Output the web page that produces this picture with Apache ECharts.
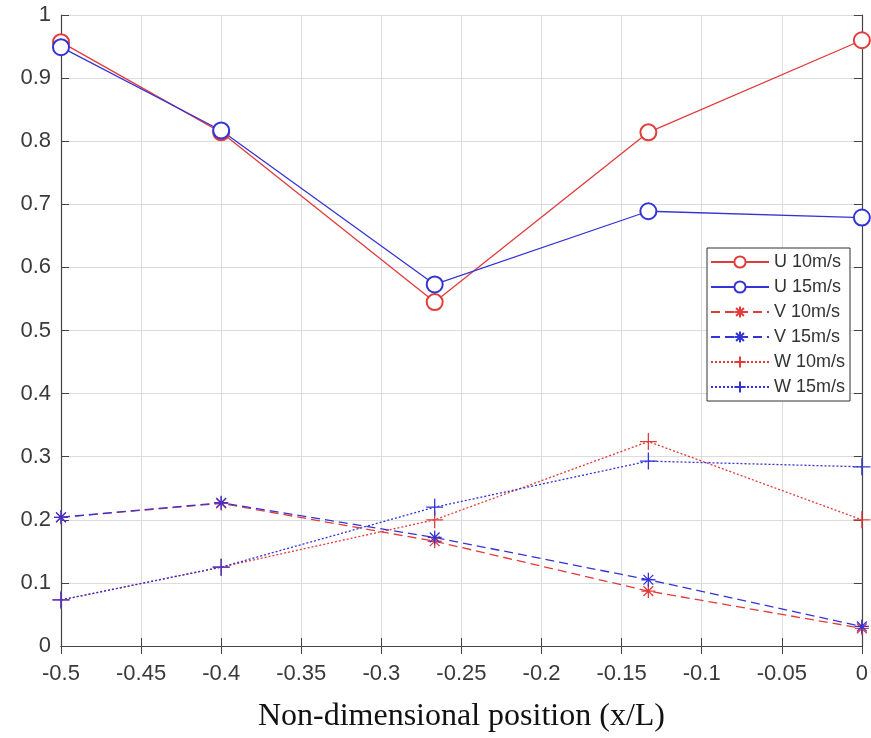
<!DOCTYPE html>
<html>
<head>
<meta charset="utf-8">
<script src="https://cdn.jsdelivr.net/npm/echarts@6/dist/echarts.min.js"></script>
<style>
  html, body { margin: 0; padding: 0; background: #fff; }
  #chart { width: 871px; height: 738px; }
</style>
</head>
<body>
<div id="chart"></div>
<script>
// x positions (x/L)
var positions = [-0.5, -0.4, -0.2667, -0.1333, 0];

var u10 = [0.957, 0.814, 0.545, 0.814, 0.960];
var u15 = [0.949, 0.817, 0.573, 0.689, 0.679];
var v10 = [0.204, 0.226, 0.166, 0.087, 0.028];
var v15 = [0.204, 0.227, 0.172, 0.105, 0.031];
var w10 = [0.073, 0.125, 0.200, 0.324, 0.200];
var w15 = [0.073, 0.125, 0.220, 0.293, 0.284];

var seriesNames = ["U 10m/s", "U 15m/s", "V 10m/s", "V 15m/s", "W 10m/s", "W 15m/s"];

var RED = "#e23b3b";
var BLUE = "#3434d6";
var STAR = "path://M5 0L5 10M0 5L10 5M1.5 1.5L8.5 8.5M8.5 1.5L1.5 8.5";
var PLUS = "path://M5 0L5 10M0 5L10 5";

function pairs(vals) {
    return positions.map(function (x, i) { return [x, vals[i]]; });
}

function makeSeries(name, vals, color, symbol, size, dash) {
    var item = { color: color, borderWidth: 1.3 };
    if (symbol !== "emptyCircle") {
        item.borderColor = color;
    }
    return {
        name: name,
        type: "line",
        data: pairs(vals),
        color: color,
        symbol: symbol,
        symbolSize: size,
        showAllSymbol: true,
        lineStyle: { color: color, width: 1.3, type: dash },
        itemStyle: item,
        emphasis: { disabled: true },
        animation: false,
        z: 3
    };
}

var chart = echarts.init(document.getElementById("chart"));

var tickStyle = { show: true, inside: true, length: 8, lineStyle: { color: "#444", width: 1 } };
var labelFont = { fontFamily: "Liberation Sans, Arial, sans-serif", fontSize: 22, color: "#3a3a3a" };

chart.setOption({
    backgroundColor: "#fff",
    grid: { left: 61, right: 8, top: 15, bottom: 90, containLabel: false },
    xAxis: [{
        type: "value",
        min: -0.5,
        max: 0,
        interval: 0.05,
        name: "Non-dimensional position (x/L)",
        nameLocation: "middle",
        nameGap: 55,
        nameTextStyle: { fontFamily: "Liberation Serif, Times New Roman, serif", fontSize: 32, color: "#111" },
        axisLine: { show: true, onZero: false, lineStyle: { color: "#444", width: 1.2 } },
        axisTick: tickStyle,
        axisLabel: Object.assign({
            margin: 17,
            formatter: function (v) { return String(parseFloat(v.toFixed(2))); }
        }, labelFont),
        splitLine: { show: true, lineStyle: { color: "#dcdcdc", width: 1 } }
    }, {
        type: "value",
        position: "top",
        min: -0.5,
        max: 0,
        interval: 0.05,
        axisLine: { show: true, lineStyle: { color: "#444", width: 1.2 } },
        axisTick: tickStyle,
        axisLabel: { show: false },
        splitLine: { show: false }
    }],
    yAxis: [{
        type: "value",
        min: 0,
        max: 1,
        interval: 0.1,
        axisLine: { show: true, onZero: false, lineStyle: { color: "#444", width: 1.2 } },
        axisTick: tickStyle,
        axisLabel: Object.assign({
            margin: 10,
            formatter: function (v) { return String(parseFloat(v.toFixed(1))); }
        }, labelFont),
        splitLine: { show: true, lineStyle: { color: "#dcdcdc", width: 1 } }
    }, {
        type: "value",
        position: "right",
        min: 0,
        max: 1,
        interval: 0.1,
        axisLine: { show: true, lineStyle: { color: "#444", width: 1.2 } },
        axisTick: tickStyle,
        axisLabel: { show: false },
        splitLine: { show: false }
    }],
    legend: {
        orient: "vertical",
        left: 707,
        top: 248,
        data: seriesNames,
        itemWidth: 58,
        itemHeight: 14,
        itemGap: 7,
        padding: [5, 5, 5, 3],
        backgroundColor: "#fff",
        borderColor: "#333",
        borderWidth: 1,
        borderRadius: 0,
        textStyle: { fontFamily: "Liberation Sans, Arial, sans-serif", fontSize: 18, color: "#333" },
        selectedMode: false
    },
    series: [
        makeSeries(seriesNames[0], u10, RED, "emptyCircle", 16, "solid"),
        makeSeries(seriesNames[1], u15, BLUE, "emptyCircle", 16, "solid"),
        makeSeries(seriesNames[2], v10, RED, STAR, 14, [9, 5]),
        makeSeries(seriesNames[3], v15, BLUE, STAR, 14, [9, 5]),
        makeSeries(seriesNames[4], w10, RED, PLUS, 17, [2, 2]),
        makeSeries(seriesNames[5], w15, BLUE, PLUS, 17, [2, 2])
    ]
});

window.addEventListener("resize", function () { chart.resize(); });
</script>
</body>
</html>
